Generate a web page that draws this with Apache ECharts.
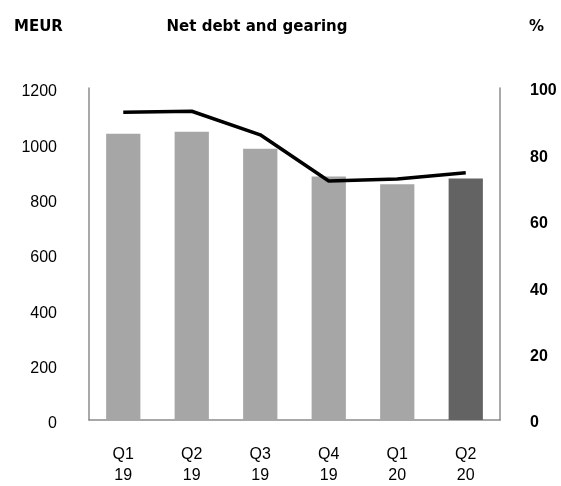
<!DOCTYPE html>
<html>
<head>
<meta charset="utf-8">
<script src="https://cdn.jsdelivr.net/npm/echarts@6/dist/echarts.min.js"></script>
<style>html,body{margin:0;padding:0;background:#fff}#c{width:561px;height:486px}</style>
</head>
<body>
<div id="c"></div>
<script>
var categories = ['Q1\n19', 'Q2\n19', 'Q3\n19', 'Q4\n19', 'Q1\n20', 'Q2\n20'];
var netDebt = [1035, 1042, 980, 880, 852, 873];
var gearing = [92.7, 93.0, 85.9, 72.0, 72.6, 74.5];
var leftTicks = [0, 200, 400, 600, 800, 1000, 1200];
var rightTicks = [0, 20, 40, 60, 80, 100];

var lightBar = '#A6A6A6', darkBar = '#636363';
var chart = echarts.init(document.getElementById('c'), null, {renderer: 'canvas'});
var barData = netDebt.map(function (v, i) {
  return {value: v, itemStyle: {color: i === netDebt.length - 1 ? darkBar : lightBar}};
});
var axisLineStyle = {show: true, lineStyle: {color: '#8C8C8C', width: 1.5}};
var titleStyle = {fontFamily: 'DejaVu Sans', fontWeight: 'bold', fontSize: 15, color: '#000'};
chart.setOption({
  animation: false,
  backgroundColor: '#fff',
  title: [
    {text: 'MEUR', left: 9, top: 15, textStyle: titleStyle},
    {text: 'Net debt and gearing', left: 252, top: 15, textAlign: 'center', textStyle: titleStyle},
    {text: '%', left: 524, top: 15, textStyle: titleStyle}
  ],
  grid: {left: 89, right: 61, top: 88, bottom: 58},
  xAxis: {
    type: 'category',
    data: categories,
    axisLine: axisLineStyle,
    axisTick: {show: false},
    axisLabel: {color: '#000', fontFamily: 'Liberation Sans', fontSize: 16, lineHeight: 21, margin: 24},
    splitLine: {show: false}
  },
  yAxis: [
    {
      type: 'value', min: 0, max: 1200, interval: 200, position: 'left',
      axisLine: axisLineStyle, axisTick: {show: false}, splitLine: {show: false},
      axisLabel: {color: '#000', fontFamily: 'Liberation Sans', fontSize: 16, margin: 32,
        formatter: function (v) { return '{a|' + v + '}'; },
        rich: {a: {fontFamily: 'Liberation Sans', fontSize: 16, color: '#000', padding: [8, 0, 0, 0]}}}
    },
    {
      type: 'value', min: 0, max: 100, interval: 20, position: 'right',
      axisLine: axisLineStyle, axisTick: {show: false}, splitLine: {show: false},
      axisLabel: {color: '#000', fontFamily: 'Liberation Sans', fontWeight: 'bold', fontSize: 16, margin: 30,
        formatter: function (v) { return '{b|' + v + '}'; },
        rich: {b: {fontFamily: 'Liberation Sans', fontWeight: 'bold', fontSize: 16, color: '#000', padding: [6, 0, 0, 0]}}}
    }
  ],
  series: [
    {type: 'bar', data: barData, barWidth: '50%', yAxisIndex: 0},
    {type: 'line', data: gearing, yAxisIndex: 1, symbol: 'none', lineStyle: {color: '#000', width: 3.5}}
  ]
});
</script>
</body>
</html>
